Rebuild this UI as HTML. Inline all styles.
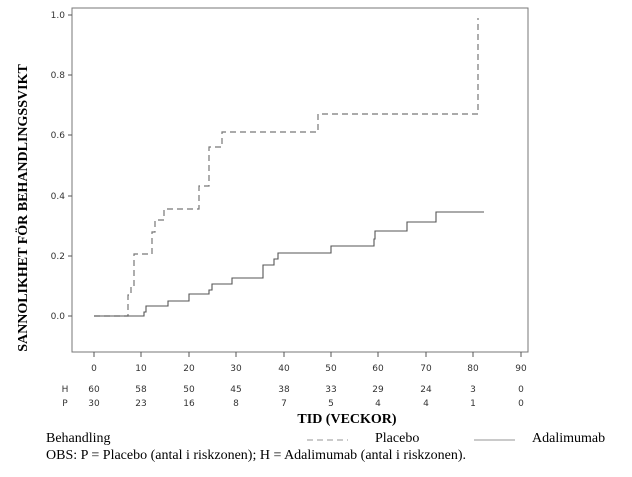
<!DOCTYPE html>
<html><head><style>body{margin:0;background:#fff}</style></head><body>
<svg width="632" height="472" xmlns="http://www.w3.org/2000/svg">
<rect x="0" y="0" width="632" height="472" fill="#fff"/>
<rect x="72" y="8" width="456" height="344" fill="none" stroke="#777" stroke-width="1"/>
<g stroke="#555" stroke-width="1">
<line x1="68" y1="15" x2="72" y2="15"/><line x1="68" y1="75" x2="72" y2="75"/><line x1="68" y1="135" x2="72" y2="135"/><line x1="68" y1="196" x2="72" y2="196"/><line x1="68" y1="256" x2="72" y2="256"/><line x1="68" y1="316" x2="72" y2="316"/>
</g>
<g font-family="DejaVu Sans, sans-serif" font-size="9" fill="#333" text-anchor="end">
<text x="65" y="18">1.0</text><text x="65" y="78">0.8</text><text x="65" y="138">0.6</text><text x="65" y="199">0.4</text><text x="65" y="259">0.2</text><text x="65" y="319">0.0</text>
</g>
<g stroke="#555" stroke-width="1">
<line x1="94" y1="352" x2="94" y2="357"/><line x1="141" y1="352" x2="141" y2="357"/><line x1="189" y1="352" x2="189" y2="357"/><line x1="236" y1="352" x2="236" y2="357"/><line x1="284" y1="352" x2="284" y2="357"/><line x1="331" y1="352" x2="331" y2="357"/><line x1="378" y1="352" x2="378" y2="357"/><line x1="426" y1="352" x2="426" y2="357"/><line x1="473" y1="352" x2="473" y2="357"/><line x1="521" y1="352" x2="521" y2="357"/>
</g>
<g font-family="DejaVu Sans, sans-serif" font-size="9" fill="#333" text-anchor="middle">
<text x="94" y="371">0</text><text x="141" y="371">10</text><text x="189" y="371">20</text><text x="236" y="371">30</text><text x="284" y="371">40</text><text x="331" y="371">50</text><text x="378" y="371">60</text><text x="426" y="371">70</text><text x="473" y="371">80</text><text x="521" y="371">90</text>
<text x="65" y="392">H</text><text x="94" y="392">60</text><text x="141" y="392">58</text><text x="189" y="392">50</text><text x="236" y="392">45</text><text x="284" y="392">38</text><text x="331" y="392">33</text><text x="378" y="392">29</text><text x="426" y="392">24</text><text x="473" y="392">3</text><text x="521" y="392">0</text>
<text x="65" y="406">P</text><text x="94" y="406">30</text><text x="141" y="406">23</text><text x="189" y="406">16</text><text x="236" y="406">8</text><text x="284" y="406">7</text><text x="331" y="406">5</text><text x="378" y="406">4</text><text x="426" y="406">4</text><text x="473" y="406">1</text><text x="521" y="406">0</text>
</g>
<text x="0" y="0" transform="translate(27,208) rotate(-90)" font-family="Liberation Serif, serif" font-weight="bold" font-size="14" text-anchor="middle">SANNOLIKHET FÖR BEHANDLINGSSVIKT</text>
<text x="347" y="423" font-family="Liberation Serif, serif" font-weight="bold" font-size="14" text-anchor="middle">TID (VECKOR)</text>
<g font-family="Liberation Serif, serif" font-size="14" fill="#000">
<text x="46" y="442">Behandling</text><text x="375" y="442">Placebo</text><text x="532" y="442">Adalimumab</text>
<text x="46" y="459">OBS: P = Placebo (antal i riskzonen); H = Adalimumab (antal i riskzonen).</text>
</g>
<line x1="307" y1="440" x2="348" y2="440" stroke="#aaa" stroke-width="1.3" stroke-dasharray="6,4"/>
<line x1="474" y1="440" x2="515" y2="440" stroke="#aaa" stroke-width="1.3"/>
<path d="M94,316 H128 V295 H131 V286 H134 V254 H152 V232 H155 V220 H164 V209 H199 V186 H209 V147 H222 V132 H318 V114 H478 V18" fill="none" stroke="#777" stroke-width="1.2" stroke-dasharray="6,4"/>
<path d="M94,316 H144 V312 H146 V306 H168 V301 H189 V294 H209 V290 H212 V284 H232 V278 H263 V265 H274 V259 H278 V253 H331 V246 H374 V239 H375 V231 H407 V222 H436 V212 H484" fill="none" stroke="#555" stroke-width="1.1"/>
</svg>
</body></html>
